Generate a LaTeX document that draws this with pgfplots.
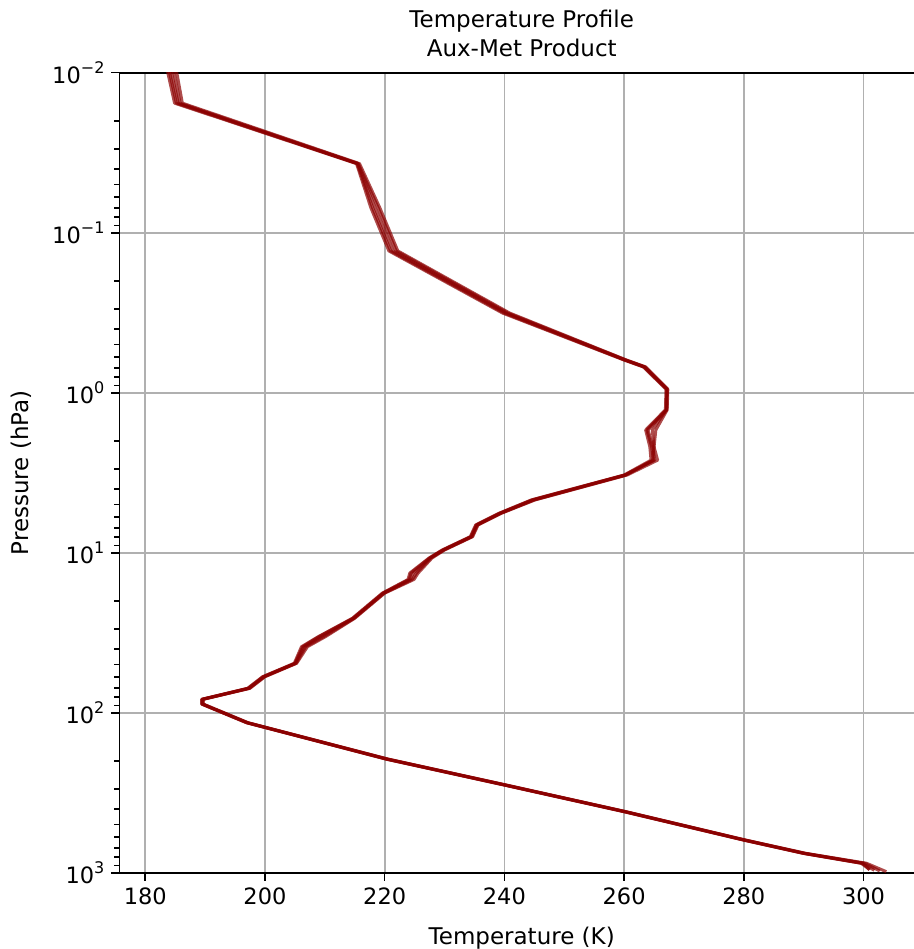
\documentclass[border=0pt]{standalone}
\usepackage{fontspec}
\setmainfont{DejaVu Sans}
\usepackage{pgfplots}
\usepackage{pgfplotstable}
\pgfplotsset{compat=1.18}
\usetikzlibrary{calc}
\definecolor{prof}{RGB}{139,0,0}
\definecolor{gridc}{RGB}{176,176,176}
\newcommand{\tensup}[1]{10\raisebox{0.44em}{\fontsize{8}{8}\selectfont #1}}
\pgfplotstableread{
p      A      B      C      D      E
0.008  183.8  184.8  183.2  184.3  183.5
0.0155 185.5  186.2  184.9  185.8  185.2
0.037  215.5  215.8  215.3  215.6  215.4
0.07   218.4  219.2  217.7  218.9  218.0
0.13   221.4  222.2  220.7  221.9  221.0
0.318  240.3  240.9  239.7  240.6  240.0
0.625  260.2  260.4  260.0  260.3  260.1
0.69   263.4  263.6  263.2  263.5  263.3
0.95   267.2  267.3  267.0  267.2  267.1
1.28   267.1  267.2  266.9  267.1  267.0
1.71   264.0  265.3  263.6  264.7  263.8
2.18   264.8  265.0  264.3  265.0  264.6
2.64   265.1  265.6  264.5  264.8  264.9
3.27   260.2  260.5  260.0  260.3  260.1
4.68   244.8  245.1  244.5  245.0  244.6
5.67   239.3  239.5  239.1  239.4  239.2
6.71   235.4  235.6  235.2  235.5  235.3
7.94   234.5  234.7  234.3  234.6  234.4
9.62   229.8  230.0  229.6  229.9  229.7
10.8   227.6  227.9  227.4  227.7  227.5
13.4   224.8  225.6  224.2  225.3  224.4
14.7   224.3  224.9  223.9  224.6  224.1
17.9   219.8  220.0  219.6  219.9  219.7
25.7   214.8  215.0  214.6  214.9  214.7
33.5   209.3  210.1  208.9  209.8  209.0
38.7   206.5  207.1  206.1  206.8  206.3
49.1   205.1  205.3  204.9  205.2  205.0
59.6   199.8  200.0  199.6  199.9  199.7
70.4   197.3  197.5  197.1  197.4  197.2
82.5   189.5  189.7  189.4  189.6  189.5
88.3   189.5  189.7  189.4  189.6  189.5
115.5  197.0  197.2  196.9  197.1  197.0
195    220.4  220.6  220.2  220.5  220.3
283    240.1  240.3  239.9  240.2  240.0
416    260.2  260.4  260.0  260.3  260.1
625    280.1  280.3  279.9  280.2  280.0
757    290.1  290.4  289.9  290.2  290.0
873    299.9  300.5  299.6  300.2  299.7
955    nan    nan    301.0  nan    nan
960    301.0  nan    nan    nan    nan
965    nan    nan    nan    nan    301.8
975    nan    nan    nan    302.7  nan
985    nan    303.8  nan    nan    nan
}\proftable

\begin{document}
\begin{tikzpicture}
\begin{axis}[
  at={(0,0)}, anchor=south west, scale only axis,
  width=402.25pt, height=400pt,
  xmin=175.7, xmax=310.1,
  ymode=log, ymin=0.01, ymax=1000, y dir=reverse,
  xtick={180,200,...,300},
  xticklabels={180,200,220,240,260,280,300},
  ytick={0.01,0.1,1,10,100,1000},
  yticklabels={\tensup{\char"2212 2},\tensup{\char"2212 1},\tensup{0},\tensup{1},\tensup{2},\tensup{3}},
  tick pos=left, tick align=outside,
  major tick length=4pt, minor tick length=2.5pt,
  every tick/.style={black, line width=0.8pt},
  grid=major, major grid style={gridc, line width=0.85pt},
  axis line style={black, line width=0.9pt},
  tick label style={font=\fontsize{11.25}{13}\selectfont},
  label style={font=\fontsize{11.5}{14}\selectfont},
  xlabel={Temperature (K)}, ylabel={Pressure (hPa)},
  xlabel style={at={(rel axis cs:0.5,0)}, anchor=base, yshift=-35.9pt},
  ylabel style={at={($(rel axis cs:0,0.5)+(-49pt,0pt)$)}, anchor=center},
  title={Temperature Profile\\Aux-Met Product},
  title style={font=\fontsize{11.5}{14.5}\selectfont, align=center, at={(rel axis cs:0.5,1)}, anchor=south, inner sep=0pt, yshift=1.5pt},
]
\addplot[prof, opacity=0.7, line width=1.5pt, line join=round] table[x=A,y=p]{\proftable};
\addplot[prof, opacity=0.7, line width=1.5pt, line join=round] table[x=B,y=p]{\proftable};
\addplot[prof, opacity=0.7, line width=1.5pt, line join=round] table[x=C,y=p]{\proftable};
\addplot[prof, opacity=0.7, line width=1.5pt, line join=round] table[x=D,y=p]{\proftable};
\addplot[prof, opacity=0.7, line width=1.5pt, line join=round] table[x=E,y=p]{\proftable};
\end{axis}
\pgfresetboundingbox
\path[use as bounding box] (-59.75pt,-38.15pt) rectangle (397.25pt,436.35pt);
\end{tikzpicture}
\end{document}
